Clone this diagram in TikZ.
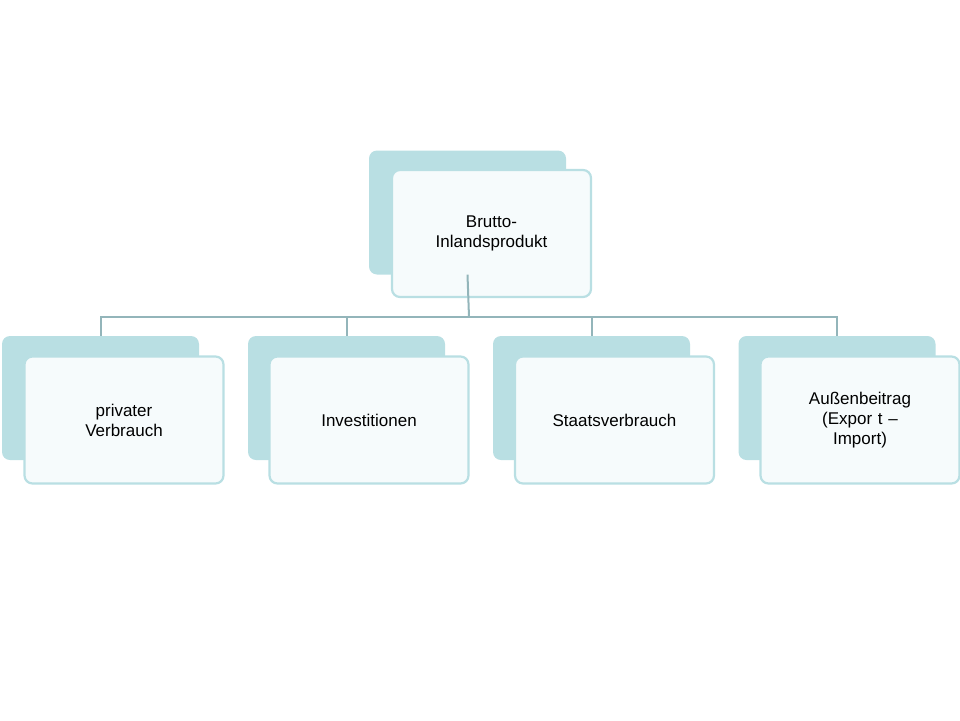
\documentclass[tikz,border=0pt]{standalone}
\usepackage{fontspec}
\setmainfont{Liberation Sans}
\definecolor{backteal}{HTML}{B9DFE3}
\definecolor{frontfill}{HTML}{F6FBFC}
\definecolor{linkgray}{HTML}{93B5BA}
\tikzset{
  backbox/.style={fill=backteal,draw=none,rounded corners=8pt,minimum width=197pt,minimum height=124pt,inner sep=0pt},
  frontbox/.style={fill=frontfill,draw=backteal,line width=2.2pt,rounded corners=8pt,minimum width=199pt,minimum height=127pt,
    align=center,text width=190pt,font=\fontsize{17}{20}\selectfont,inner sep=0pt},
  link/.style={draw=linkgray,line width=2pt}
}
\begin{document}
\begin{tikzpicture}[x=1pt,y=-1pt]
    \useasboundingbox (0,0) rectangle (960,720);
    % top
    \node[backbox](topback)at(467.5,212.5){};
    \node[frontbox](top)at(491.5,233.5){Brutto-\\Inlandsprodukt};
    % children
    \node[backbox](b1)at(100.5,398){};
    \node[frontbox](c1)at(124,420){privater\\Verbrauch};
    \node[backbox](b2)at(346.5,398){};
    \node[frontbox](c2)at(369,420){Investitionen};
    \node[backbox](b3)at(591.5,398){};
    \node[frontbox](c3)at(614.5,420){Staatsverbrauch};
    \node[backbox](b4)at(837,398){};
    \node[frontbox](c4)at(860,420){Außenbeitrag\\(Expor t –\\Import)};
    % connectors
    \coordinate(hub)at(469,317);
    \draw[link](topback.south)--(hub);
    \draw[link](b1.north)|-(hub);
    \draw[link](b4.north)|-(hub);
    \draw[link](b2.north)--(b2.north|-hub);
    \draw[link](b3.north)--(b3.north|-hub);
\end{tikzpicture}
\end{document}
